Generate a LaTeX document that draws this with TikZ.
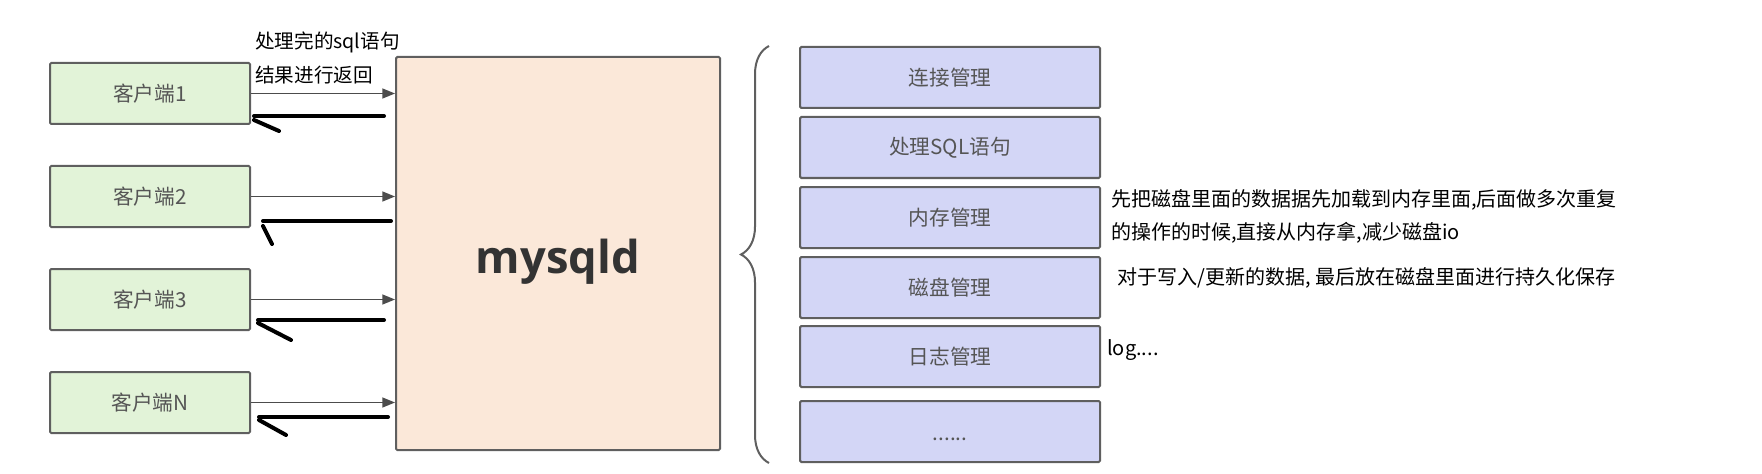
\documentclass[tikz,border=0pt]{standalone}
\usepackage{fontspec}
\setmainfont{Noto Sans CJK SC}
\newfontfamily\mqfont{Open Sans}
\usetikzlibrary{arrows.meta,calc,decorations.pathreplacing}

\definecolor{clientfill}{HTML}{E2F3D8}
\definecolor{serverfill}{HTML}{FBE8D9}
\definecolor{modfill}{HTML}{D3D6F6}
\definecolor{edgegray}{HTML}{5F5F5F}
\definecolor{textgray}{HTML}{555555}

\tikzset{
  client/.style={draw=edgegray, fill=clientfill, line width=1.5pt, rounded corners=1pt,
    minimum width=150pt, minimum height=45.75pt, inner sep=0pt,
    text=textgray, font=\fontsize{15.5}{17}\selectfont},
  module/.style={draw=edgegray, fill=modfill, line width=1.5pt, rounded corners=1pt,
    minimum width=225pt, minimum height=45.75pt, inner sep=0pt,
    text=textgray, font=\fontsize{15.5}{17}\selectfont},
  req/.style={draw=edgegray!80!black, line width=1pt, -{Triangle[length=9.5pt,width=7.5pt]}},
  ret/.style={draw=black, line width=3pt, line cap=round},
  note/.style={anchor=west, inner sep=0pt, font=\fontsize{15}{17}\selectfont},
  brace/.style={draw=edgegray, line width=1.5pt, decorate,
    decoration={brace, amplitude=21pt}}
}

\begin{document}
\begin{tikzpicture}[x=0.75pt, y=-0.75pt]

  \useasboundingbox (0,0) rectangle (1762,474);

  % -- Clients --
  \node[client] (c1) at (150, 93.5) {客户端1};
  \node[client] (c2) at (150, 196.5) {客户端2};
  \node[client] (c3) at (150, 299.5) {客户端3};
  \node[client] (c4) at (150, 402.5) {客户端N};

  % -- Server --
  \node[draw=edgegray, fill=serverfill, line width=1.5pt, rounded corners=1pt,
    minimum width=243pt, minimum height=294.75pt, inner sep=0pt,
    text height=30pt, text depth=0pt,
    text=black!80, font=\mqfont\bfseries\fontsize{34}{40}\selectfont] (mq) at (558, 253.5) {mysqld};

  % -- Requests --
  \draw[req] (c1.east) -- (c1.east -| mq.west);
  \draw[req] (c2.east) -- (c2.east -| mq.west);
  \draw[req] (c3.east) -- (c3.east -| mq.west);
  \draw[req] (c4.east) -- (c4.east -| mq.west);

  % -- Returned results (hand drawn) --
  \draw[ret] ($(c1.east)+(133,22.5)$) -- ($(c1.east)+(3,22.5)$);
  \draw[ret] ($(c1.east)+(3,26.5)$) -- ($(c1.east)+(28,37.5)$);
  \draw[ret] ($(c2.east)+(140,24.5)$) -- ($(c2.east)+(12,24.5)$);
  \draw[ret] ($(c2.east)+(12,29.5)$) -- ($(c2.east)+(21,47.5)$);
  \draw[ret] ($(c3.east)+(133,20.5)$) -- ($(c3.east)+(7,20.5)$);
  \draw[ret] ($(c3.east)+(7,23.5)$) -- ($(c3.east)+(40,40.5)$);
  \draw[ret] ($(c4.east)+(137,14.5)$) -- ($(c4.east)+(8,14.5)$);
  \draw[ret] ($(c4.east)+(8,17.5)$) -- ($(c4.east)+(35,32.5)$);

  % -- Labels above the first arrow --
  \node[note, font=\fontsize{14.7}{16}\selectfont] (sqldone) at (255, 42) {处理完的sql语句};
  \node[note, font=\fontsize{14.7}{16}\selectfont] (sqlback) at (255, 75) {结果进行返回};

  % -- Modules --
  \node[module] (m1) at (950, 77.5) {连接管理};
  \node[module] (m2) at (950, 147.5) {处理SQL语句};
  \node[module] (m3) at (950, 217.5) {内存管理};
  \node[module] (m4) at (950, 287.5) {磁盘管理};
  \node[module] (m5) at (950, 356.5) {日志管理};
  \node[module, text height=13pt, text depth=0pt] (m6) at (950, 431.5) {......};

  % -- Brace --
  \draw[brace] ([xshift=-22.5pt]m6.south west) -- ([xshift=-22.5pt]m1.north west);

  % -- Notes --
  \node[note] (memnote1) at (1111, 200) {先把磁盘里面的数据据先加载到内存里面,后面做多次重复};
  \node[note] (memnote2) at (1111, 233) {的操作的时候,直接从内存拿,减少磁盘io};
  \node[note] (disknote) at (1117, 278) {对于写入/更新的数据, 最后放在磁盘里面进行持久化保存};
  \node[note] (lognote) at (1107, 350) {log....};

\end{tikzpicture}
\end{document}
